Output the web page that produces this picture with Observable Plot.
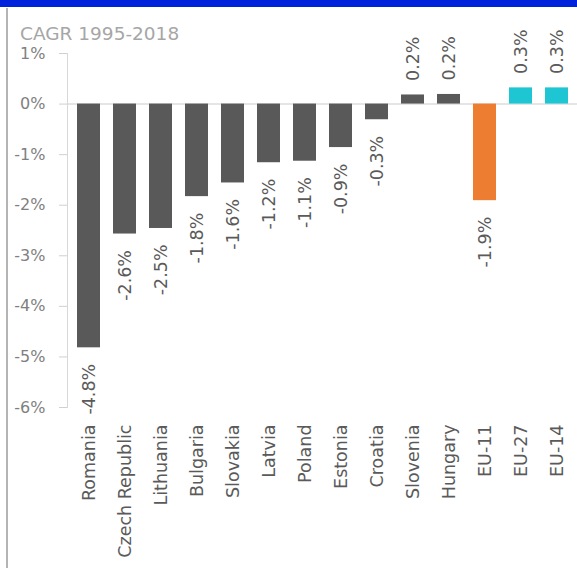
<!DOCTYPE html>
<html>
<head>
<meta charset="utf-8">
<script src="https://cdn.jsdelivr.net/npm/d3@7"></script>
<script src="https://cdn.jsdelivr.net/npm/@observablehq/plot@0.6"></script>
<style>
  html, body { margin: 0; padding: 0; background: #fff; }
  #band { height: 7px; background: #0022dd; }
  #wrap { position: relative; width: 577px; height: 561px; }
  #leftline { position: absolute; left: 6px; top: 1px; width: 2px; height: 560px; background: #b4b4b4; }
  #title { position: absolute; left: 20px; top: 18px; font-family: "DejaVu Sans", sans-serif; font-size: 18.5px; line-height: 18px; color: #a6a6a6; white-space: nowrap; }
</style>
</head>
<body>
<div id="band"></div>
<div id="wrap">
  <div id="leftline"></div>
  <div id="title">CAGR 1995-2018</div>
  <div id="chart"></div>
</div>
<script>
const countries = ["Romania", "Czech Republic", "Lithuania", "Bulgaria", "Slovakia", "Latvia", "Poland", "Estonia", "Croatia", "Slovenia", "Hungary", "EU-11", "EU-27", "EU-14"];
const cagr = [-4.82, -2.57, -2.46, -1.83, -1.56, -1.16, -1.13, -0.86, -0.31, 0.18, 0.19, -1.91, 0.32, 0.32];
const groups = ["country", "country", "country", "country", "country", "country", "country", "country", "country", "country", "country", "EU-11", "EU", "EU"];
const yTicks = [1, 0, -1, -2, -3, -4, -5, -6];

const data = countries.map((c, i) => ({country: c, value: cagr[i], group: groups[i]}));
const fmt = d => d.value.toFixed(1) + "%";

const chart = Plot.plot({
  width: 577,
  height: 561,
  marginTop: 46,
  marginBottom: 161,
  marginLeft: 67,
  marginRight: 0,
  style: {fontFamily: "DejaVu Sans, sans-serif", background: "transparent"},
  x: {domain: countries, paddingInner: 0.37, paddingOuter: 0.19, axis: null},
  y: {domain: [-6, 1], axis: null},
  color: {domain: ["country", "EU-11", "EU"], range: ["#595959", "#ed7d31", "#1dc6d2"]},
  marks: [
    Plot.ruleY([0], {stroke: "#dcdcdc", strokeWidth: 1.5}),
    Plot.frame({anchor: "left", stroke: "#d8d8d8"}),
    Plot.axisY({ticks: yTicks, tickFormat: d => d + "%", tickSize: 8, tickPadding: 14, stroke: "#d0d0d0", fill: "#808080", fontSize: 16, label: null}),
    Plot.barY(data, {x: "country", y: "value", fill: "group"}),
    Plot.text(data.filter(d => d.value < 0), {x: "country", y: "value", text: fmt, rotate: -90, textAnchor: "end", lineAnchor: "middle", dy: 16, fontSize: 17.5, fill: "#5a5a5a"}),
    Plot.text(data.filter(d => d.value >= 0), {x: "country", y: "value", text: fmt, rotate: -90, textAnchor: "start", lineAnchor: "middle", dy: -14, fontSize: 17.5, fill: "#5a5a5a"}),
    Plot.axisX({tickRotate: -90, tickSize: 0, tickPadding: 17, textAnchor: "end", lineAnchor: "middle", fontSize: 17.5, fill: "#5a5a5a", label: null})
  ]
});
document.getElementById("chart").appendChild(chart);
</script>
</body>
</html>
